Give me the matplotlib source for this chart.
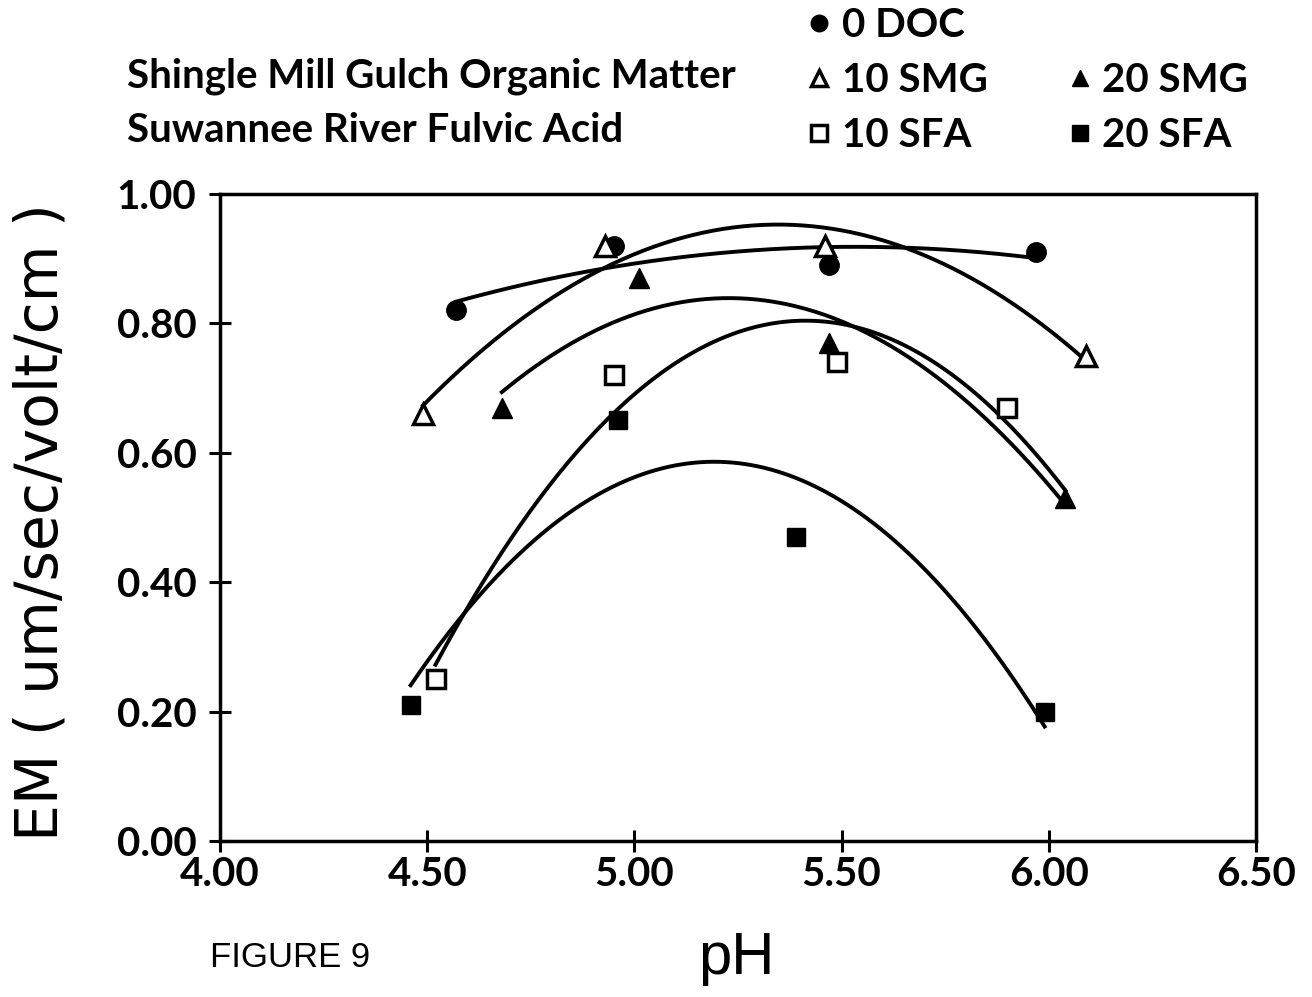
import numpy as np
import matplotlib
matplotlib.use("Agg")
import matplotlib.pyplot as plt
from matplotlib.lines import Line2D

# EM vs pH for each treatment
phDoc0 = [4.57, 4.95, 5.47, 5.97]
emDoc0 = [0.82, 0.92, 0.89, 0.91]
phSmg10 = [4.49, 4.93, 5.46, 6.09]
emSmg10 = [0.66, 0.92, 0.92, 0.75]
phSmg20 = [4.68, 5.01, 5.47, 6.04]
emSmg20 = [0.67, 0.87, 0.77, 0.53]
phSfa10 = [4.52, 4.95, 5.49, 5.90]
emSfa10 = [0.25, 0.72, 0.74, 0.67]
phSfa20 = [4.46, 4.96, 5.39, 5.99]
emSfa20 = [0.21, 0.65, 0.47, 0.20]

seriesLabels = ["0 DOC", "10 SMG", "20 SMG", "10 SFA", "20 SFA"]
# pH span over which each fitted curve was drawn
curveStart = [4.57, 4.49, 4.68, 4.52, 4.46]
curveEnd = [5.97, 6.09, 6.04, 6.04, 5.99]

xTicks = [4.00, 4.50, 5.00, 5.50, 6.00, 6.50]
yTicks = [0.00, 0.20, 0.40, 0.60, 0.80, 1.00]

allPh = [phDoc0, phSmg10, phSmg20, phSfa10, phSfa20]
allEm = [emDoc0, emSmg10, emSmg20, emSfa10, emSfa20]
markerStyles = [
    dict(marker="o", markersize=14, markerfacecolor="black"),
    dict(marker="^", markersize=14, markerfacecolor="white", markeredgewidth=2.5),
    dict(marker="^", markersize=14, markerfacecolor="black"),
    dict(marker="s", markersize=13, markerfacecolor="white", markeredgewidth=2.5),
    dict(marker="s", markersize=13, markerfacecolor="black"),
]

fig = plt.figure(figsize=(13.12, 9.97), dpi=100)
ax = fig.add_axes([0.1677, 0.1565, 0.9573 - 0.1677, 0.8054 - 0.1565])

handles = []
for ph, em, style, label, x0, x1 in zip(allPh, allEm, markerStyles, seriesLabels,
                                        curveStart, curveEnd):
    coeffs = np.polyfit(ph, em, 2)
    xs = np.linspace(x0, x1, 200)
    ax.plot(xs, np.polyval(coeffs, xs), color="black", linewidth=2.8, zorder=2)
    h, = ax.plot(ph, em, linestyle="none", color="black", markeredgecolor="black",
                 zorder=3, label=label, **style)
    handles.append(h)

ax.set_xlim(4.0, 6.5)
ax.set_ylim(0.0, 1.0)
ax.set_xticks(xTicks)
ax.set_yticks(yTicks)
ax.set_xticklabels(["%.2f" % t for t in xTicks])
ax.set_yticklabels(["%.2f" % t for t in yTicks])
for s in ax.spines.values():
    s.set_linewidth(2.5)
ax.tick_params(direction="inout", length=16, width=2.2)
ax.tick_params(axis="x", pad=3)
ax.tick_params(axis="y", pad=9)
for lab in ax.get_xticklabels() + ax.get_yticklabels():
    lab.set_fontfamily("Lato")
    lab.set_fontweight("bold")
    lab.set_fontsize(29)

fig.text(0.031, 0.476, "EM ( um/sec/volt/cm )", rotation=90, ha="center", va="center",
         fontsize=42, family="DejaVu Sans")
fig.text(0.561, 0.039, "pH", ha="center", va="center", fontsize=43,
         family="Liberation Sans")
fig.text(0.16, 0.040, "FIGURE 9", ha="left", va="center", fontsize=25,
         family="Liberation Sans")

headerFont = dict(family="Lato", weight="bold", size=29)
fig.text(0.097, 1 - 76 / 997, "Shingle Mill Gulch Organic Matter", ha="left",
         va="center", fontdict=headerFont)
fig.text(0.097, 1 - 131 / 997, "Suwannee River Fulvic Acid", ha="left",
         va="center", fontdict=headerFont)

blank = Line2D([], [], linestyle="none", marker="none")
legendHandles = [handles[0], handles[1], handles[3], blank, handles[2], handles[4]]
legendLabels = [seriesLabels[0], seriesLabels[1], seriesLabels[3], "",
                seriesLabels[2], seriesLabels[4]]
leg = fig.legend(legendHandles, legendLabels, ncol=2, loc="upper left",
                 bbox_to_anchor=(0.600, 1.013), frameon=False, markerscale=0.85,
                 handlelength=0.6, handletextpad=0.25, columnspacing=2.0,
                 labelspacing=0.45, borderpad=0.0,
                 prop=dict(family="Lato", weight="bold", size=29))

fig.savefig("out.png", dpi=100)
